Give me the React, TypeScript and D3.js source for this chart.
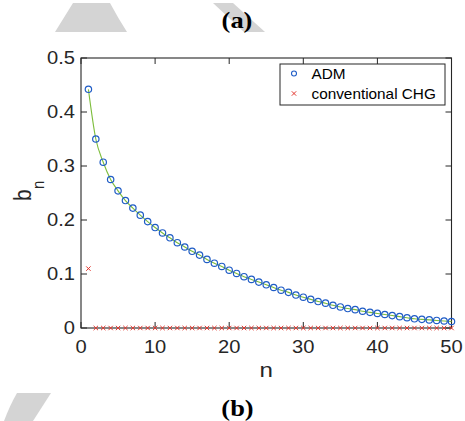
import * as d3 from 'd3';

// index n and the two series
const nValues = [1, 2, 3, 4, 5, 6, 7, 8, 9, 10, 11, 12, 13, 14, 15, 16, 17, 18, 19, 20, 21, 22, 23, 24, 25,
  26, 27, 28, 29, 30, 31, 32, 33, 34, 35, 36, 37, 38, 39, 40, 41, 42, 43, 44, 45, 46, 47, 48, 49, 50];
const admValues = [0.442, 0.350, 0.307, 0.275, 0.254, 0.236, 0.222, 0.209, 0.197, 0.186,
  0.176, 0.167, 0.158, 0.150, 0.142, 0.135, 0.127, 0.120, 0.114, 0.107,
  0.101, 0.095, 0.090, 0.085, 0.080, 0.075, 0.070, 0.066, 0.061, 0.057,
  0.053, 0.049, 0.046, 0.042, 0.039, 0.036, 0.034, 0.031, 0.029, 0.027,
  0.025, 0.023, 0.021, 0.019, 0.017, 0.016, 0.015, 0.014, 0.013, 0.012];
const chgValues = [0.11, 0, 0, 0, 0, 0, 0, 0, 0, 0, 0, 0, 0, 0, 0, 0, 0, 0, 0, 0, 0, 0, 0, 0, 0,
  0, 0, 0, 0, 0, 0, 0, 0, 0, 0, 0, 0, 0, 0, 0, 0, 0, 0, 0, 0, 0, 0, 0, 0, 0];
const xTicks = [0, 10, 20, 30, 40, 50];
const yTicks = [0, 0.1, 0.2, 0.3, 0.4, 0.5];
const legendLabels = ['ADM', 'conventional CHG'];

const W = 465;
const H = 421;
const axisColor = '#262626';
const blue = '#1f5cc6';
const green = '#7dbd3c';
const red = '#e3372f';
const sans = '"Liberation Sans", Arial, sans-serif';
const serif = '"Liberation Serif", "Times New Roman", serif';
const sx = 1.15; // text in the figure is stretched horizontally

export default function App() {
  const x = d3.scaleLinear().domain([0, 50]).range([81, 451.5]);
  const y = d3.scaleLinear().domain([0, 0.5]).range([328, 58]);
  const [x0, x1] = x.range();
  const [y0, y1] = y.range();
  const tick = 6;

  const line = d3.line<number>()
    .x((_, i) => x(nValues[i]))
    .y((d) => y(d))
    .curve(d3.curveMonotoneX);

  const cross = 2.2;

  return (
    <svg width={W} height={H} style={{ position: 'absolute', left: 0, top: 0, background: '#fff' }}>
      {/* grey page decorations */}
      <path d="M73,3 L110,3 Q118,18 127,32 L55,32 Z" fill="#d4d4d4" />
      <path d="M213,3 L233,3 L265,32 L244,32 Z" fill="#d4d4d4" />
      <path d="M17,393 L51,393 L33,421 L4,421 Q10,405 17,393 Z" fill="#d4d4d4" />

      <text transform={`translate(237,28) scale(${sx},1)`} textAnchor="middle" fontFamily={serif} fontWeight="bold" fontSize={23}>(a)</text>
      <text transform={`translate(237.5,416) scale(${sx},1)`} textAnchor="middle" fontFamily={serif} fontWeight="bold" fontSize={23}>(b)</text>

      {/* axes box */}
      <rect x={x0} y={y1} width={x1 - x0} height={y0 - y1} fill="none" stroke={axisColor} strokeWidth={1.1} />
      {xTicks.map((t) => (
        <g key={'xt' + t}>
          <line x1={x(t)} x2={x(t)} y1={y0} y2={y0 - tick} stroke={axisColor} />
          <line x1={x(t)} x2={x(t)} y1={y1} y2={y1 + tick} stroke={axisColor} />
          <text transform={`translate(${x(t)},352.5) scale(${sx},1)`} textAnchor="middle"
            fontFamily={sans} fontSize={17.5} fill={axisColor}>{t}</text>
        </g>
      ))}
      {yTicks.map((t) => (
        <g key={'yt' + t}>
          <line x1={x0} x2={x0 + tick} y1={y(t)} y2={y(t)} stroke={axisColor} />
          <line x1={x1} x2={x1 - tick} y1={y(t)} y2={y(t)} stroke={axisColor} />
          <text transform={`translate(75,${y(t) + 6.3}) scale(${sx},1)`} textAnchor="end"
            fontFamily={sans} fontSize={17.5} fill={axisColor}>{t}</text>
        </g>
      ))}

      <text transform={`translate(${(x0 + x1) / 2},377) scale(${sx},1)`} textAnchor="middle"
        fontFamily={sans} fontSize={21} fill={axisColor}>n</text>
      <g transform={`translate(31,${(y0 + y1) / 2 + 8}) rotate(-90)`} fill={axisColor}>
        <text fontFamily={sans} fontSize={21} transform={`scale(1,${sx})`}>b</text>
        <text x={12} y={11} fontFamily={sans} fontSize={15} transform={`scale(1,${sx})`}>n</text>
      </g>

      {/* ADM curve and markers */}
      <path d={line(admValues) ?? ''} fill="none" stroke={green} strokeWidth={1.1} />
      {admValues.map((v, i) => (
        <circle key={'a' + i} cx={x(nValues[i])} cy={y(v)} r={3.2} fill="none" stroke={blue} strokeWidth={1.2} />
      ))}

      {/* conventional CHG */}
      {chgValues.map((v, i) => {
        const cx = x(nValues[i]);
        const cy = y(v);
        return (
          <path key={'c' + i}
            d={`M${cx - cross},${cy - cross}L${cx + cross},${cy + cross}M${cx - cross},${cy + cross}L${cx + cross},${cy - cross}`}
            stroke={red} strokeWidth={1} />
        );
      })}

      {/* legend */}
      <rect x={280} y={64} width={165} height={41} fill="#fff" stroke={axisColor} strokeWidth={1} />
      <circle cx={294} cy={73.5} r={2.5} fill="none" stroke={blue} strokeWidth={1.1} />
      <path d={`M${294 - cross},${93.5 - cross}L${294 + cross},${93.5 + cross}M${294 - cross},${93.5 + cross}L${294 + cross},${93.5 - cross}`}
        stroke={red} strokeWidth={1} />
      {legendLabels.map((s, i) => (
        <text key={s} transform={`translate(311.5,${79 + i * 20}) scale(1.08,1)`}
          fontFamily={sans} fontSize={14.2} fill="#000">{s}</text>
      ))}
    </svg>
  );
}
